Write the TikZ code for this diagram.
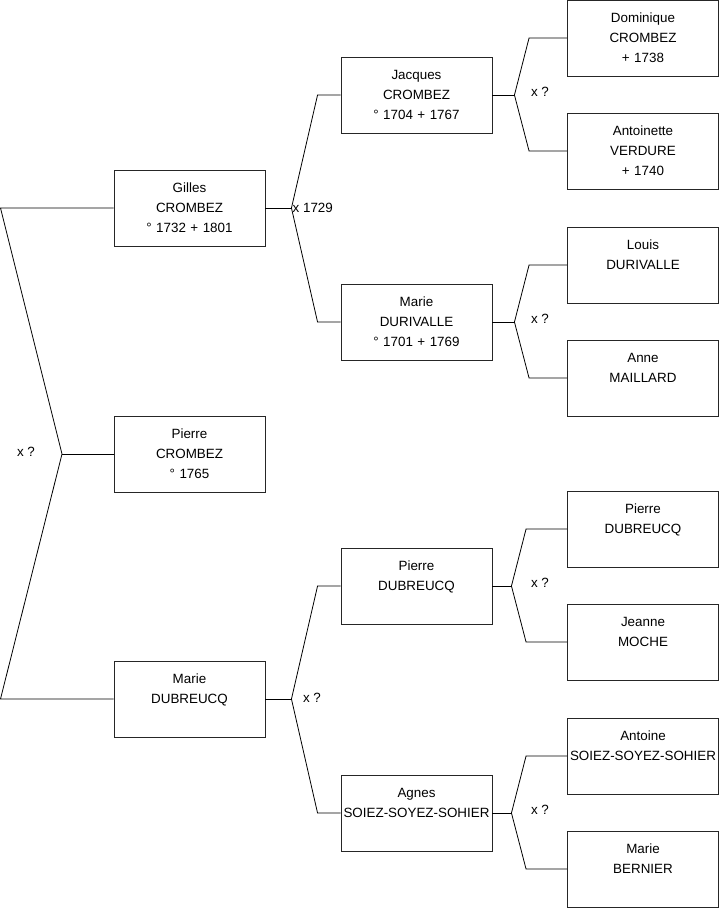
\documentclass[tikz,border=0pt]{standalone}
\usepackage{fontspec}
\setmainfont{Liberation Sans}
\usepackage{tikz}
\usetikzlibrary{calc}
\tikzset{
  person/.style={draw=black!85,line width=0.9pt,minimum height=76pt,text width=151pt,
    inner xsep=0pt,inner ysep=0pt,align=center,font=\fontsize{13.4}{20}\selectfont},
  link/.style={draw=black,line width=0.8pt},
  wed/.style={font=\fontsize{13.4}{20}\selectfont,inner sep=0pt}
}

\begin{document}
\begin{tikzpicture}[x=1pt,y=-1pt]
  \useasboundingbox (0,0) rectangle (719,908);
  % first generation
  \node[person] (gilles) at (189.5,208) {Gilles\\CROMBEZ\\° 1732 + 1801};
  \node[person] (pierre) at (189.5,454) {Pierre\\CROMBEZ\\° 1765};
  \node[person] (marie) at (189.5,699) {Marie\\DUBREUCQ\\~};
  % second generation
  \node[person] (jacques) at (416.5,95) {Jacques\\CROMBEZ\\° 1704 + 1767};
  \node[person] (durivalle) at (416.5,322) {Marie\\DURIVALLE\\° 1701 + 1769};
  \node[person] (pdubreucq) at (416.5,586) {Pierre\\DUBREUCQ\\~};
  \node[person] (agnes) at (416.5,813) {Agnes\\\mbox{SOIEZ-SOYEZ-SOHIER}\\~};
  % third generation
  \node[person] (dominique) at (643,38) {Dominique\\CROMBEZ\\+ 1738};
  \node[person] (antoinette) at (643,151) {Antoinette\\VERDURE\\+ 1740};
  \node[person] (louis) at (643,265) {Louis\\DURIVALLE\\~};
  \node[person] (anne) at (643,378) {Anne\\MAILLARD\\~};
  \node[person] (pierre3) at (643,529) {Pierre\\DUBREUCQ\\~};
  \node[person] (jeanne) at (643,642) {Jeanne\\MOCHE\\~};
  \node[person] (antoine) at (643,756) {Antoine\\\mbox{SOIEZ-SOYEZ-SOHIER}\\~};
  \node[person] (bernier) at (643,869) {Marie\\BERNIER\\~};

  % junctions
  \coordinate (l1) at (0.5,208);
  \coordinate (lj) at (62,454);
  \coordinate (l2) at (0.5,699);
  \draw[link] (gilles.west) -- (l1) -- (lj) -- (l2) -- (marie.west);
  \draw[link] (lj) -- (pierre.west);
  \node[wed] (w0) at (26,452) {x ?};

  \coordinate (gj) at ($(gilles.east)+(26,0)$);
  \draw[link] (gilles.east) -- (gj);
  \draw[link] (jacques.west) -- ++(-23,0) -- (gj) -- ($(durivalle.west)+(-23,0)$) -- (durivalle.west);
  \node[wed,anchor=west] (w1) at ($(gj)+(1,0)$) {x 1729};

  \coordinate (mj) at ($(marie.east)+(26,0)$);
  \draw[link] (marie.east) -- (mj);
  \draw[link] (pdubreucq.west) -- ++(-23,0) -- (mj) -- ($(agnes.west)+(-23,0)$) -- (agnes.west);
  \node[wed] (w2) at (312,698) {x ?};

  \coordinate (jj) at ($(jacques.east)+(22,0)$);
  \draw[link] (jacques.east) -- (jj);
  \draw[link] (dominique.west) -- ++(-38,0) -- (jj) -- ($(antoinette.west)+(-38,0)$) -- (antoinette.west);
  \node[wed] (w3) at (540,92) {x ?};

  \coordinate (dj) at ($(durivalle.east)+(22,0)$);
  \draw[link] (durivalle.east) -- (dj);
  \draw[link] (louis.west) -- ++(-38,0) -- (dj) -- ($(anne.west)+(-38,0)$) -- (anne.west);
  \node[wed] (w4) at (540,319) {x ?};

  \coordinate (pj) at ($(pdubreucq.east)+(19,0)$);
  \draw[link] (pdubreucq.east) -- (pj);
  \draw[link] (pierre3.west) -- ++(-41,0) -- (pj) -- ($(jeanne.west)+(-41,0)$) -- (jeanne.west);
  \node[wed] (w5) at (540,583) {x ?};

  \coordinate (aj) at ($(agnes.east)+(19,0)$);
  \draw[link] (agnes.east) -- (aj);
  \draw[link] (antoine.west) -- ++(-41,0) -- (aj) -- ($(bernier.west)+(-41,0)$) -- (bernier.west);
  \node[wed] (w6) at (540,810) {x ?};
\end{tikzpicture}
\end{document}
